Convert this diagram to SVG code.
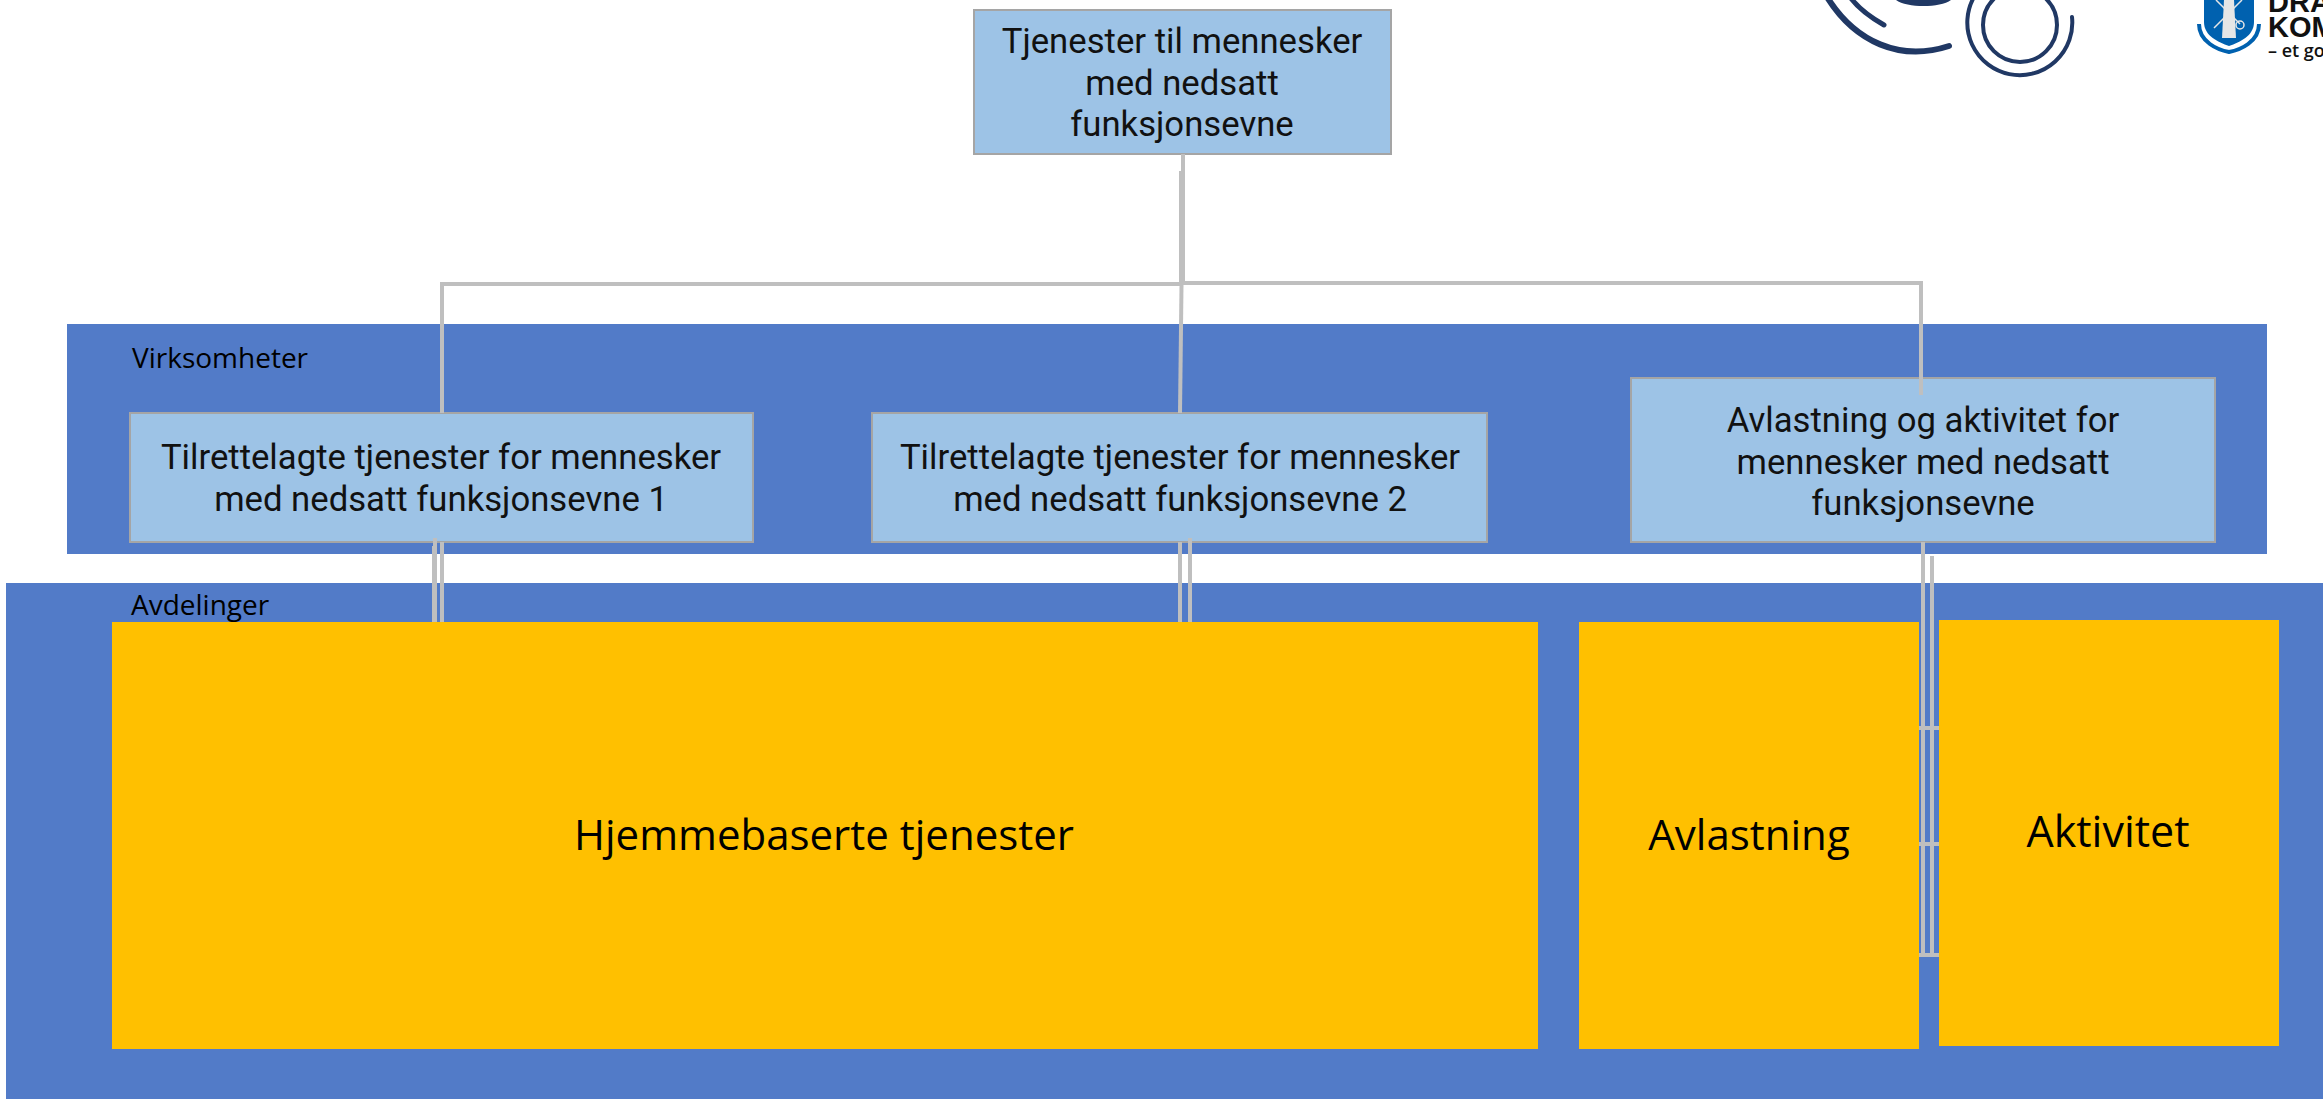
<svg xmlns="http://www.w3.org/2000/svg" width="2323" height="1099" viewBox="0 0 2323 1099">
<style>
.band{fill:#527bc8}
.box{fill:#9dc3e6;stroke:#a5a5a5;stroke-width:2}
.yel{fill:#ffc000}
.t{font-family:Roboto,"Liberation Sans",sans-serif;font-size:34.700px;fill:#111;text-anchor:middle}
.o{font-family:"Open Sans","Noto Sans",sans-serif;fill:#000}
.c{fill:none;stroke:#bfbfbf;stroke-width:4}
.l{fill:none;stroke:#203864;stroke-linecap:round}
</style>
<rect width="2323" height="1099" fill="#fff"/>
<g id="logo-circles">
<path class="l" stroke-width="6" d="M1827 -3C1855 42 1900 62 1949 46"/>
<path class="l" stroke-width="5" d="M1850 -3C1858 8 1870 17 1884 25"/>
<path d="M1896 0H1951C1940 8 1907 8 1896 0Z" fill="#203864"/>
<circle class="l" stroke-width="4" cx="2020" cy="25" r="37"/>
<path class="l" stroke-width="4" d="M2072 17A52.500 52.500 0 1 1 1974 -3"/>
</g>
<g id="logo-shield">
<path d="M2204 0H2254V22C2254 36 2240 42 2229 46C2218 42 2204 36 2204 22Z" fill="#0061af"/>
<path d="M2224 0H2234L2236 38H2222Z" fill="#e6e6e6"/>
<path d="M2214 28L2242 0M2216 0L2240 24" stroke="#e6e6e6" stroke-width="1.500"/>
<circle cx="2240" cy="25" r="4" fill="none" stroke="#e6e6e6" stroke-width="1.500"/>
<path d="M2199 24C2199 42 2218 50 2229 52C2240 50 2259 42 2259 24" fill="none" stroke="#0061af" stroke-width="4"/>
<text x="2268" y="12" font-family="Liberation Sans,sans-serif" font-weight="700" font-size="29" fill="#111">DRA</text>
<text x="2268" y="37" font-family="Liberation Sans,sans-serif" font-weight="700" font-size="29" fill="#111">KOM</text>
<text x="2268" y="57" font-family="Open Sans,sans-serif" font-weight="600" font-size="18" fill="#111">– et go</text>
</g>
<g id="band-virksomheter">
<rect class="band" x="67" y="324" width="2200" height="230"/>
<text class="o" x="132" y="368" font-size="28">Virksomheter</text>
</g>
<g id="band-avdelinger">
<rect class="band" x="6" y="583" width="2317" height="516"/>
<text class="o" x="131" y="615" font-size="28">Avdelinger</text>
</g>
<g id="node-top">
<rect class="box" x="974" y="10" width="417" height="144"/>
<text class="t" x="1182" y="53">Tjenester til mennesker</text>
<text class="t" x="1182" y="95">med nedsatt</text>
<text class="t" x="1182" y="136">funksjonsevne</text>
</g>
<g id="node-v1">
<rect class="box" x="130" y="413" width="623" height="129"/>
<text class="t" x="441" y="469">Tilrettelagte tjenester for mennesker</text>
<text class="t" x="441" y="511">med nedsatt funksjonsevne 1</text>
</g>
<g id="node-v2">
<rect class="box" x="872" y="413" width="615" height="129"/>
<text class="t" x="1180" y="469">Tilrettelagte tjenester for mennesker</text>
<text class="t" x="1180" y="511">med nedsatt funksjonsevne 2</text>
</g>
<g id="node-v3">
<rect class="box" x="1631" y="378" width="584" height="164"/>
<text class="t" x="1923" y="432">Avlastning og aktivitet for</text>
<text class="t" x="1923" y="474">mennesker med nedsatt</text>
<text class="t" x="1923" y="515">funksjonsevne</text>
</g>
<g id="connectors">
<path class="c" d="M1183 154V285"/>
<path class="c" d="M1181 171V285"/>
<path class="c" d="M442 413V284H1183"/>
<path class="c" d="M1921 395V283H1183"/>
<path class="c" d="M1181.500 285L1180 413"/>
<path class="c" d="M434 546V622M435 538V622M442 542V622"/>
<path class="c" d="M1180 542V622M1190 538V622"/>
<path class="c" d="M1923 542V957M1932 556V957"/>
<path class="c" d="M1919 728H1939M1919 844H1939M1919 955H1939"/>
</g>
<g id="node-hjemme">
<rect class="yel" x="112" y="622" width="1426" height="427"/>
<text class="o" x="824" y="850" font-size="42" text-anchor="middle">Hjemmebaserte tjenester</text>
</g>
<g id="node-avlastning">
<rect class="yel" x="1579" y="622" width="340" height="427"/>
<text class="o" x="1749" y="850" font-size="42" text-anchor="middle">Avlastning</text>
</g>
<g id="node-aktivitet">
<rect class="yel" x="1939" y="620" width="340" height="426"/>
<text class="o" x="2108" y="847" font-size="43" text-anchor="middle">Aktivitet</text>
</g>
</svg>
